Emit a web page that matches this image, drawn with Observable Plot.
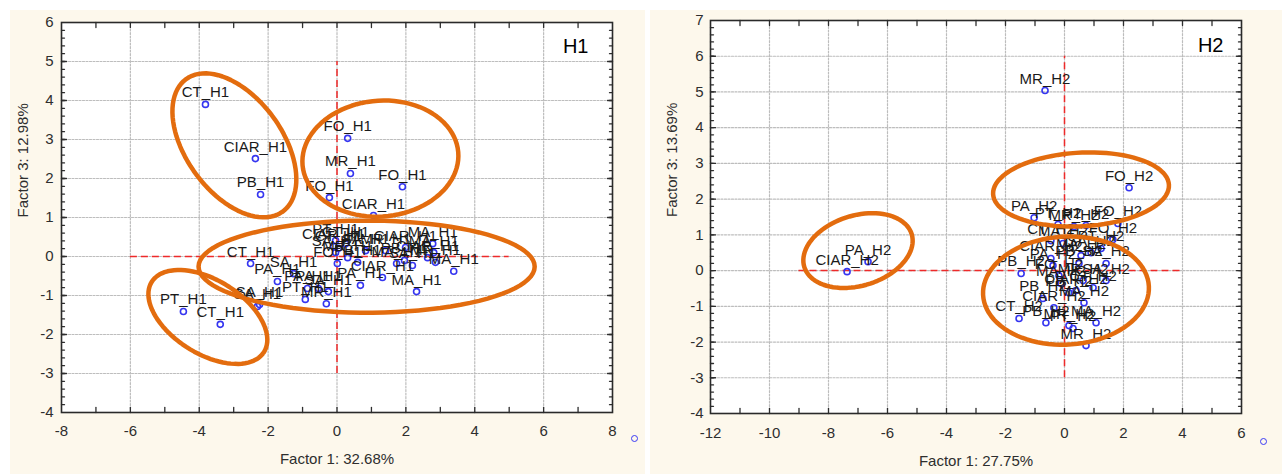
<!DOCTYPE html>
<html><head><meta charset="utf-8">
<script src="https://cdn.jsdelivr.net/npm/d3@7"></script>
<script src="https://cdn.jsdelivr.net/npm/@observablehq/plot@0.6"></script>
<style>
body{margin:0;background:#fff;font-family:"Liberation Sans",Arial,sans-serif;}
#wrap{position:relative;width:1285px;height:474px;overflow:hidden;background:#fff;}
.panel{position:absolute;top:10px;height:464px;background:#fdf8ec;}
#p1{left:10px;width:635px;}
#p2{left:650px;width:632px;}
.stray{position:absolute;width:5px;height:5px;border:1.5px solid #3b3bf5;border-radius:50%;}
</style></head><body>
<div id="wrap">
  <div class="panel" id="p1"><span class="stray" style="left:621px;top:425px"></span></div>
  <div class="panel" id="p2"><span class="stray" style="left:610px;top:428px"></span></div>
</div>
<script>
// ---------- H1 data ----------
const h1Labels = ["CT_H1","CIAR_H1","PB_H1","FO_H1","MR_H1","FO_H1","FO_H1","CIAR_H1","CT_H1","PT_H1",
  "CT_H1","SA_H1","SA_H1","PA_H1","SA_H1","PA_H1","PA_H1","SA_H1","PT_H1","MR_H1",
  "PT_H1","CIAR_H1","CT_H1","SA_H1","MR_H1","FO_H1","PB_H1","PA_H1","CIAR_H1","MA_H1",
  "PB_H1","SA_H1","CIAR_H1","MA_H1","MR_H1","MA_H1","MA_H1","MA_H1","CIAR_H1","MR_H1","SA_H1","CT_H1"];
const h1F1 = [-3.82,-2.37,-2.22,0.31,0.39,1.90,-0.22,1.06,-2.51,-4.46,
  -3.39,-2.31,-2.25,-1.73,-1.26,-0.86,-0.54,-0.25,-0.92,-0.31,
  -0.04,-0.10,0.04,-0.04,0.31,0.01,0.60,0.68,1.32,1.73,
  1.96,2.19,2.63,2.81,2.86,3.39,2.31,2.78,1.99,1.41,0.83,0.25];
const h1F3 = [3.90,2.51,1.59,3.03,2.13,1.79,1.51,1.05,-0.18,-1.41,
  -1.74,-1.28,-1.23,-0.64,-0.44,-0.82,-0.82,-0.90,-1.10,-1.21,
  0.41,0.26,0.21,0.10,-0.03,-0.18,-0.15,-0.74,-0.54,-0.18,
  -0.10,-0.23,-0.03,0.10,-0.15,-0.38,-0.90,0.33,0.23,0.15,0.15,0.33];
// ellipses: [cx, cy, ux, uy, vx, vy] in data units
const h1Ellipses = [
  [-2.98, 2.85, 1.40, -1.70, -1.13, -0.72],
  [1.26, 2.51, 2.26, 0.17, 0.147, -1.48],
  [0.86, -0.26, 4.88, 0.0, 0.0, -1.18],
  [-3.75, -1.55, 1.63, -0.90, -0.57, -0.80]
];
const h1Ref = {x: [-6, 5], y: [-3, 5]};
const h1XTicks = [-8,-6,-4,-2,0,2,4,6,8];
const h1YTicks = [-4,-3,-2,-1,0,1,2,3,4,5,6];

// ---------- H2 data ----------
const h2Labels = ["MR_H2","FO_H2","PA_H2","CIAR_H2","PA_H2","PT_H2","MR_H2","PT_H2","FO_H2","FO_H2",
  "CT_H2","CIAR_H2","PB_H2","PA_H2","PB_H2","SA_H2","MA_H2","SA_H2","MA_H2","PT_H2",
  "FO_H2","MR_H2","SA_H2","CT_H2","PB_H2","PB_H2","CIAR_H2","MA_H2","CT_H2","PB_H2",
  "MA_H2","MR_H2","PT_H2","MR_H2","CIAR_H2","MA_H2"];
const h2F1 = [-0.66,2.19,-1.03,-7.37,-6.66,-0.22,0.32,0.73,1.81,1.64,
  -0.46,-0.46,-1.47,-0.39,0.49,1.41,-0.05,0.90,0.56,1.24,
  -0.19,0.63,1.41,0.97,0.15,-0.73,-0.36,0.66,-1.54,-0.63,
  1.07,0.15,0.29,0.73,0.39,-0.12];
const h2F3 = [5.04,2.32,1.48,-0.03,0.25,1.29,1.23,1.26,1.32,0.87,
  0.84,0.34,-0.08,0.14,0.20,0.20,0.76,0.50,0.42,0.62,
  -0.14,-0.28,-0.28,-0.48,-0.62,-0.78,-1.04,-0.90,-1.34,-1.46,
  -1.46,-1.54,-1.62,-2.10,-0.56,-0.36];
const h2Ellipses = [
  [-7.0, 0.56, 1.82, 0.46, 0.35, -0.94],
  [0.56, 2.27, 2.98, 0.13, 0.065, -1.03],
  [0.05, -0.56, 2.81, 0.12, 0.095, -1.51]
];
const h2Ref = {x: [-9, 4], y: [-3, 6]};
const h2XTicks = [-12,-10,-8,-6,-4,-2,0,2,4,6];
const h2YTicks = [-4,-3,-2,-1,0,1,2,3,4,5,6,7];

// ---------- drawing ----------
function ellipsePoints(list) {
  const out = [];
  list.forEach((e, k) => {
    const [cx, cy, ux, uy, vx, vy] = e;
    for (let i = 0; i <= 90; i++) {
      const t = i / 90 * 2 * Math.PI;
      out.push({id: k, x: cx + ux * Math.cos(t) + vx * Math.sin(t), y: cy + uy * Math.cos(t) + vy * Math.sin(t)});
    }
  });
  return out;
}
// segments as point pairs for the line mark
function vSegs(values, ya, yb, tag) {
  return values.flatMap(v => [{g: tag + v, x: v, y: ya}, {g: tag + v, x: v, y: yb}]);
}
function hSegs(values, xa, xb, tag) {
  return values.flatMap(v => [{g: tag + v, x: xa, y: v}, {g: tag + v, x: xb, y: v}]);
}

function makeChart(o) {
  const pts = o.labels.map((l, i) => ({label: l, x: o.xs[i], y: o.ys[i]}));
  const [x0, x1] = [o.xTicks[0], o.xTicks[o.xTicks.length - 1]];
  const [y0, y1] = [o.yTicks[0], o.yTicks[o.yTicks.length - 1]];
  const xMinor = d3.range(x0 + 1, x1, 1);
  const yMinor = d3.range(Math.round(y0 * 5) + 1, Math.round(y1 * 5)).map(i => i / 5);
  const yMajorIn = o.yTicks.slice(1, -1);
  // inward tick lengths converted from pixels into data units
  const pw = o.width - o.ml - o.mr, ph = o.height - o.mt - o.mb;
  const tx = (px) => px * (x1 - x0) / pw;
  const ty = (px) => px * (y1 - y0) / ph;
  const fmt = d => String(d);
  const ink = "#2e2e2e";
  const grid = [
    ...vSegs(o.xTicks.slice(1, -1), y0, y1, "gx"),
    ...hSegs(yMajorIn, x0, x1, "gy")
  ];
  const ticks = [
    ...vSegs(xMinor, y0, y0 + ty(5), "tb"),
    ...vSegs(xMinor, y1, y1 - ty(5), "tt"),
    ...hSegs(yMinor, x0, x0 + tx(3), "tl"),
    ...hSegs(yMinor, x1, x1 - tx(3), "tr"),
    ...hSegs(yMajorIn, x0, x0 + tx(5), "Tl"),
    ...hSegs(yMajorIn, x1, x1 - tx(5), "Tr")
  ];
  return Plot.plot({
    width: o.width, height: o.height,
    marginLeft: o.ml, marginRight: o.mr, marginTop: o.mt, marginBottom: o.mb,
    style: {fontFamily: "'Liberation Sans', Arial, sans-serif", fontSize: "15px", background: "transparent", overflow: "visible"},
    x: {domain: [x0, x1]},
    y: {domain: [y0, y1]},
    marks: [
      Plot.frame({fill: "white", stroke: null}),
      Plot.line(grid, {x: "x", y: "y", z: "g", stroke: "#bdbdbd", strokeWidth: 1.2, strokeDasharray: "2,1.5"}),
      Plot.ruleY([0], {x1: o.ref.x[0], x2: o.ref.x[1], stroke: "#ee2a2a", strokeWidth: 1.5, strokeDasharray: "7,4"}),
      Plot.ruleX([0], {y1: o.ref.y[0], y2: o.ref.y[1], stroke: "#ee2a2a", strokeWidth: 1.5, strokeDasharray: "7,4"}),
      Plot.dot(pts, {x: "x", y: "y", r: 3, stroke: "#3535f0", strokeWidth: 1.6, fill: "none"}),
      Plot.text(pts, {x: "x", y: "y", text: "label", lineAnchor: "bottom", dy: -7, fontSize: 15, fill: "#1a1a1a"}),
      Plot.line(ellipsePoints(o.ellipses), {x: "x", y: "y", z: "id", stroke: "#e36c0e", strokeWidth: 4.5}),
      Plot.line(ticks, {x: "x", y: "y", z: "g", stroke: ink, strokeWidth: 1.3}),
      Plot.frame({stroke: "#2a2a2a", strokeWidth: 1.6}),
      Plot.axisX(o.xTicks, {anchor: "bottom", tickSize: 0, tickPadding: o.padX, tickFormat: fmt, label: null, fontSize: 15, color: ink}),
      Plot.axisY(o.yTicks, {anchor: "left", tickSize: 0, tickPadding: o.padY, tickFormat: fmt, label: null, fontSize: 15, color: ink}),
      Plot.text([o.xLabel], {frameAnchor: "bottom", text: d => d, dy: o.xLabelDy, lineAnchor: "middle", fontSize: 15, fill: ink}),
      Plot.text([o.yLabel], {frameAnchor: "left", text: d => d, rotate: -90, dx: o.yLabelDx, lineAnchor: "middle", fontSize: 15, fill: ink}),
      Plot.text([o.title], {frameAnchor: "top-right", text: d => d, dx: o.titleDx, dy: o.titleDy, lineAnchor: "top", textAnchor: "end", fontSize: 20, fill: "#000"})
    ]
  });
}

document.getElementById("p1").appendChild(makeChart({
  labels: h1Labels, xs: h1F1, ys: h1F3, ellipses: h1Ellipses, ref: h1Ref,
  xTicks: h1XTicks, yTicks: h1YTicks,
  width: 635, height: 464, ml: 51, mr: 33, mt: 12, mb: 62,
  padX: 13, padY: 8, xLabel: "Factor 1: 32.68%", yLabel: "Factor 3: 12.98%",
  xLabelDy: 47, yLabelDx: -38, title: "H1", titleDx: -24, titleDy: 16
}));
document.getElementById("p2").appendChild(makeChart({
  labels: h2Labels, xs: h2F1, ys: h2F3, ellipses: h2Ellipses, ref: h2Ref,
  xTicks: h2XTicks, yTicks: h2YTicks,
  width: 632, height: 464, ml: 60, mr: 41, mt: 10, mb: 61,
  padX: 14, padY: 7, xLabel: "Factor 1: 27.75%", yLabel: "Factor 3: 13.69%",
  xLabelDy: 48, yLabelDx: -38, title: "H2", titleDx: -18, titleDy: 17
}));
</script>
</body></html>
